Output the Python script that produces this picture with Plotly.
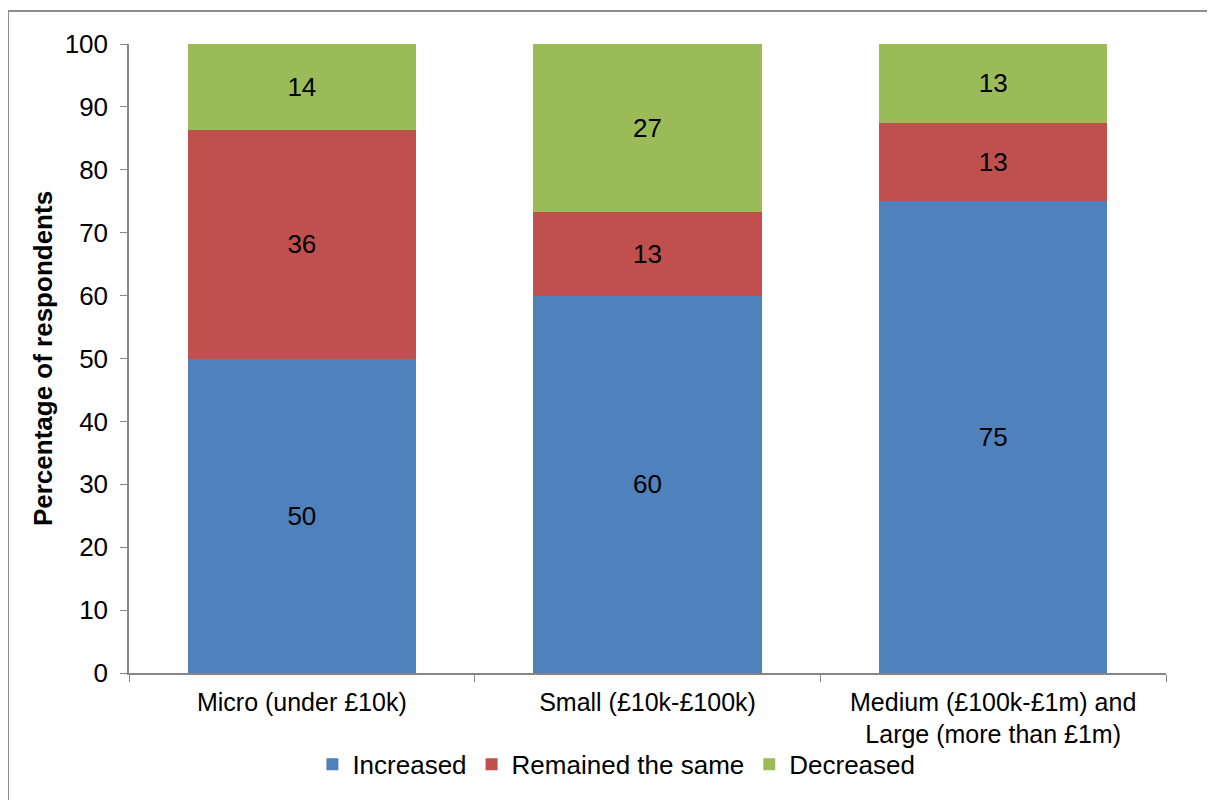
import plotly.graph_objects as go

# data
categories = ["Micro (under £10k)", "Small (£10k-£100k)",
              "Medium (£100k-£1m) and<br>Large (more than £1m)"]
increased = [50.0, 60.0, 75.0]
remained = [36.4, 13.3, 12.5]
decreased = [13.6, 26.7, 12.5]

series = [
    ("Increased", increased, "#4F81BD"),
    ("Remained the same", remained, "#C0504D"),
    ("Decreased", decreased, "#9BBB59"),
]

font = "Arial, Liberation Sans, sans-serif"

# page body has an 8px margin, so the figure is laid out in its own coords
W, H = 1207, 792
L, R, T, B = 121, 49, 36, 127
pw, ph = W - L - R, H - T - B

fig = go.Figure()
for name, vals, col in series:
    fig.add_trace(go.Bar(
        x=categories, y=vals, name=name,
        marker=dict(color=col, line=dict(width=0)),
        texttemplate="%{y:.0f}", textposition="inside",
        insidetextanchor="middle",
        textfont=dict(color="black", size=26, family=font),
        hoverinfo="skip"
    ))

fig.update_layout(
    width=W, height=H,
    barmode="stack", bargap=0.34,
    plot_bgcolor="white", paper_bgcolor="white",
    margin=dict(l=L, r=R, t=T, b=B),
    font=dict(family=font, size=26, color="black"),
    showlegend=True,
    legend=dict(orientation="h", x=0.47, xanchor="center", y=-0.108,
                yanchor="top", font=dict(size=26), traceorder="normal",
                itemwidth=30, bgcolor="rgba(0,0,0,0)"),
    xaxis=dict(showline=True, linecolor="#868686", linewidth=1.5,
               ticks="outside", tickson="boundaries", ticklen=7,
               tickcolor="#868686", tickfont=dict(size=25),
               ticklabelstandoff=6),
    yaxis=dict(range=[0, 100], dtick=10, showgrid=False, zeroline=False,
               showline=True, linecolor="#868686", linewidth=1.5,
               ticks="outside", ticklen=7, tickcolor="#868686",
               tickfont=dict(size=26), ticklabelstandoff=7,
               title=dict(text="<b>Percentage of respondents</b>",
                          font=dict(size=26), standoff=5)),
)

# outer chart frame
fig.add_shape(type="rect", xref="paper", yref="paper",
              x0=(0 - L) / pw, x1=(1202 - L) / pw,
              y0=-0.3, y1=(ph + 33) / ph,
              line=dict(color="#8c8c8c", width=2), layer="below")

fig.write_html("out.html")
